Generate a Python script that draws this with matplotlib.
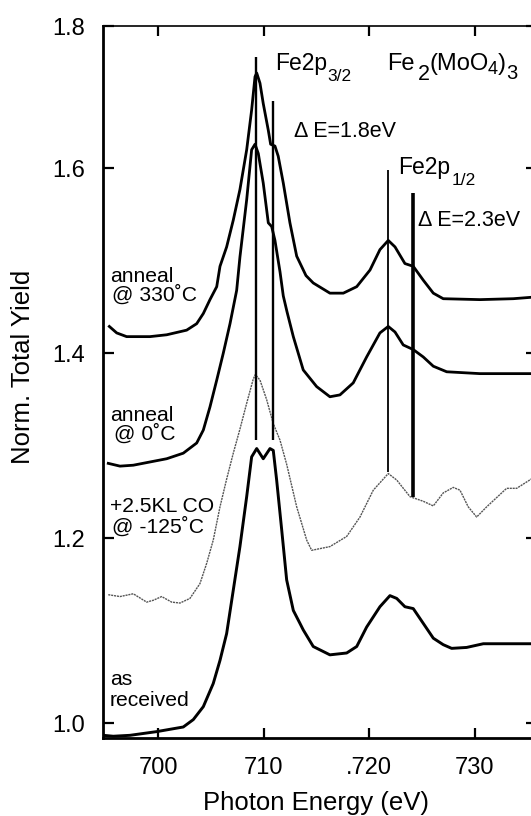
import matplotlib
matplotlib.use("Agg")
import matplotlib.pyplot as plt

plt.rcParams['font.family'] = ['Liberation Sans', 'DejaVu Sans']

# ---- data (photon energy in eV, normalized total yield) ----
e_330 = [695.36, 696.06, 697.00, 699.21, 700.80, 702.69, 703.64, 704.27, 704.90, 705.54,
         705.85, 706.48, 707.11, 707.74, 708.38, 708.85, 709.17, 709.33, 709.64, 709.95,
         710.43, 710.65, 711.06, 711.37, 711.85, 712.48, 713.12, 714.00, 714.69, 716.27,
         717.54, 718.81, 720.07, 721.01, 721.80, 722.44, 723.38, 724.17, 725.12, 726.07,
         727.01, 730.49, 733.65, 735.9]
y_330 = [1.429, 1.422, 1.418, 1.418, 1.420, 1.425, 1.432, 1.443, 1.458, 1.472,
         1.494, 1.515, 1.544, 1.577, 1.620, 1.663, 1.699, 1.703, 1.692, 1.670,
         1.641, 1.626, 1.624, 1.613, 1.584, 1.541, 1.505, 1.484, 1.476, 1.465,
         1.465, 1.472, 1.490, 1.512, 1.522, 1.515, 1.497, 1.494, 1.479, 1.465,
         1.459, 1.458, 1.459, 1.461]

e_0 = [695.26, 696.37, 697.63, 700.80, 702.37, 703.64, 704.27, 704.90, 705.54, 706.16,
       706.80, 707.43, 707.74, 708.38, 708.85, 709.17, 709.48, 709.95, 710.43, 710.75,
       711.06, 711.54, 711.85, 712.20, 712.80, 713.74, 715.01, 716.27, 717.22, 718.48,
       719.75, 721.01, 721.80, 722.44, 723.22, 724.17, 725.12, 726.07, 727.34, 730.49,
       735.9]
y_0 = [1.281, 1.278, 1.279, 1.286, 1.292, 1.303, 1.317, 1.342, 1.371, 1.400,
       1.432, 1.468, 1.504, 1.566, 1.620, 1.626, 1.616, 1.584, 1.541, 1.537,
       1.522, 1.488, 1.462, 1.445, 1.418, 1.382, 1.364, 1.353, 1.355, 1.368,
       1.396, 1.422, 1.429, 1.423, 1.409, 1.404, 1.396, 1.386, 1.380, 1.378,
       1.378]

e_co = [695.26, 696.37, 697.63, 698.90, 699.53, 700.32, 701.27, 702.06, 703.00, 703.95,
        704.59, 705.21, 705.85, 706.48, 707.11, 707.74, 708.38, 709.00, 709.20, 709.64,
        710.27, 710.90, 711.54, 712.17, 713.12, 714.07, 714.54, 716.27, 717.86, 719.12,
        720.38, 721.80, 722.60, 723.86, 725.12, 726.07, 727.01, 727.96, 728.60, 729.38,
        730.18, 731.13, 733.02, 733.97, 735.9]
y_co = [1.139, 1.137, 1.140, 1.131, 1.133, 1.137, 1.131, 1.130, 1.135, 1.151,
        1.173, 1.198, 1.234, 1.264, 1.292, 1.318, 1.346, 1.372, 1.377, 1.371,
        1.350, 1.324, 1.306, 1.280, 1.234, 1.198, 1.187, 1.191, 1.202, 1.223,
        1.252, 1.270, 1.263, 1.245, 1.240, 1.235, 1.249, 1.255, 1.252, 1.234,
        1.223, 1.234, 1.254, 1.254, 1.268]

e_rec = [694.79, 695.73, 697.32, 699.85, 702.37, 703.32, 704.27, 705.21, 705.85, 706.48,
         707.11, 707.74, 708.38, 708.85, 709.33, 709.95, 710.59, 710.90, 711.22, 711.70,
         712.17, 712.80, 713.43, 713.74, 714.69, 716.27, 717.86, 718.81, 719.75, 721.01,
         721.96, 722.60, 723.38, 724.17, 725.12, 726.07, 727.01, 727.81, 729.23, 730.81,
         733.65, 735.9]
y_rec = [0.987, 0.986, 0.987, 0.991, 0.996, 1.004, 1.018, 1.043, 1.068, 1.097,
         1.144, 1.191, 1.245, 1.288, 1.297, 1.286, 1.297, 1.295, 1.263, 1.209,
         1.155, 1.122, 1.108, 1.101, 1.083, 1.074, 1.076, 1.083, 1.104, 1.126,
         1.138, 1.135, 1.126, 1.124, 1.108, 1.092, 1.085, 1.081, 1.082, 1.086,
         1.086, 1.086]

# marker lines: energy, bottom, top, width
mark_e = [709.3, 710.9, 721.8, 724.1]
mark_lo = [1.306, 1.306, 1.272, 1.245]
mark_hi = [1.720, 1.673, 1.598, 1.573]
mark_lw = [1.7, 1.7, 1.3, 2.6]

xticks = [700, 710, 720, 730]
xticklabels = ['700', '710', '.720', '730']
yticks = [1.0, 1.2, 1.4, 1.6, 1.7538]
yticklabels = ['1.0', '1.2', '1.4', '1.6', '1.8']

fig = plt.figure(figsize=(5.31, 8.16), dpi=100)
ax = fig.add_axes([103/531, 78/816, 434/531, 712/816])

ax.plot(e_330, y_330, color='black', lw=2.0, zorder=3, solid_joinstyle='round')
ax.plot(e_0, y_0, color='black', lw=2.0, zorder=3, solid_joinstyle='round')
ax.plot(e_co, y_co, color='#555555', lw=1.0, ls=(0, (1.5, 0.6)), zorder=3)
ax.plot(e_rec, y_rec, color='black', lw=2.1, zorder=3, solid_joinstyle='round')

for e, lo, hi, lw in zip(mark_e, mark_lo, mark_hi, mark_lw):
    ax.vlines(e, lo, hi, color='black', lw=lw, zorder=4)

ax.set_xlim(694.76, 735.9)
ax.set_ylim(0.9841, 1.7538)
ax.set_xticks(xticks)
ax.set_xticklabels(xticklabels)
ax.set_yticks(yticks)
ax.set_yticklabels(yticklabels)
ax.tick_params(axis='both', direction='in', labelsize=17, width=1.6, length=7,
               top=True, right=True)
ax.tick_params(axis='x', pad=14)
ax.tick_params(axis='y', length=8, pad=13)
for s in ['left', 'bottom']:
    ax.spines[s].set_linewidth(2.0)
ax.spines['top'].set_linewidth(1.2)
ax.spines['top'].set_linestyle((0, (3, 1)))
ax.spines['right'].set_visible(False)

ax.set_xlabel('Photon Energy (eV)', fontsize=18.5, va='top')
ax.xaxis.set_label_coords(0.49, -0.074)
ax.set_ylabel('Norm. Total Yield', fontsize=18.5)
ax.yaxis.set_label_coords(-0.156, 0.521)

fs = 15.2
x_lab = 695.42
x_at = 695.65
ax.text(x_lab, 1.483, 'anneal', fontsize=fs, va='center', ha='left')
ax.text(x_at, 1.463, '@ 330˚C', fontsize=fs, va='center', ha='left')
ax.text(x_lab, 1.333, 'anneal', fontsize=fs, va='center', ha='left')
ax.text(x_at + 0.15, 1.313, '@ 0˚C', fontsize=fs, va='center', ha='left')
ax.text(x_lab, 1.234, '+2.5KL CO', fontsize=fs, va='center', ha='left')
ax.text(x_at, 1.213, '@ -125˚C', fontsize=fs, va='center', ha='left')
ax.text(x_lab, 1.047, 'as', fontsize=fs, va='center', ha='left')
ax.text(x_lab, 1.025, 'received', fontsize=fs, va='center', ha='left')


def chain(x, y, pieces):
    """Draw text pieces side by side on one baseline: (text, size, dx_pt, dy_pt)."""
    txt, size, dx, dy = pieces[0]
    prev = ax.text(x, y, txt, fontsize=size, va='baseline', ha='left')
    for txt, size, dx, dy in pieces[1:]:
        prev = ax.annotate(txt, xy=(1, y), xycoords=(prev, 'data'),
                           xytext=(dx, dy), textcoords='offset points',
                           fontsize=size, va='baseline', ha='left')


fs2 = 16.5
chain(711.06, 1.706, [('Fe2p', fs2, 0, 0), ('3/2', 12.5, 0.5, -8)])
chain(721.72, 1.706, [('Fe', 17, 0, 0), ('2', 15.5, 2, -7), ('(MoO', 17, 0, 0),
                      ('4', 13, -0.8, -3), (')', 17, 0.3, 0), ('3', 14.5, 0, -6)])
ax.text(712.88, 1.640, 'Δ E=1.8eV', fontsize=15.5, va='center', ha='left')
chain(722.76, 1.594, [('Fe2p', fs2, 0, 0), ('1/2', 12.5, 0.5, -8)])
ax.text(724.64, 1.544, 'Δ E=2.3eV', fontsize=15.5, va='center', ha='left')

fig.savefig('out.png', dpi=100)
